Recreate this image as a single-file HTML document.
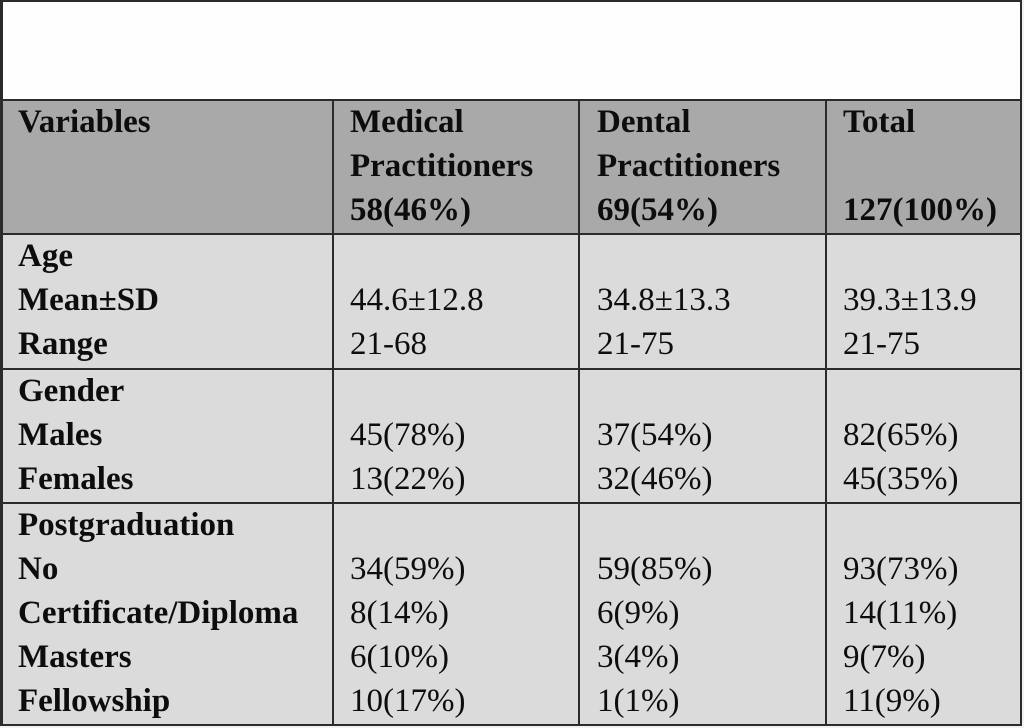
<!DOCTYPE html>
<html><head><meta charset="utf-8"><style>
html,body{margin:0;padding:0;background:#fff;}
#c{position:relative;width:1024px;height:728px;overflow:hidden;background:#fff;font-family:"Liberation Serif","Times New Roman",serif;font-size:33px;line-height:44px;color:#0d0d0d;}
.bg{position:absolute;}
.l{position:absolute;background:#2b2b2b;}
.t{position:absolute;white-space:nowrap;}
.b{font-weight:bold;}
</style></head><body><div id="c">
<div class="bg" style="left:0;top:0;width:1021px;height:100px;background:#fefefe"></div>
<div class="bg" style="left:0;top:100px;width:1021px;height:134px;background:#a9a9a9"></div>
<div class="bg" style="left:0;top:234px;width:1021px;height:491px;background:#dbdbdb"></div>
<div class="bg" style="left:1022px;top:0;width:2px;height:728px;background:#f2f2f2"></div>
<div class="bg" style="left:0;top:726px;width:1024px;height:2px;background:#f2f2f2"></div>

<!-- outer border -->
<div class="l" style="left:0;top:0;width:1022px;height:2px"></div>
<div class="l" style="left:0;top:0;width:3px;height:726px"></div>
<div class="l" style="left:1020px;top:0;width:2px;height:726px"></div>
<div class="l" style="left:0;top:724px;width:1022px;height:2px"></div>
<!-- row lines -->
<div class="l" style="left:0;top:99px;width:1022px;height:2px"></div>
<div class="l" style="left:0;top:233px;width:1022px;height:2px"></div>
<div class="l" style="left:0;top:368px;width:1022px;height:2px"></div>
<div class="l" style="left:0;top:502px;width:1022px;height:2px"></div>
<!-- column lines -->
<div class="l" style="left:332px;top:100px;width:2px;height:625px"></div>
<div class="l" style="left:578px;top:100px;width:2px;height:625px"></div>
<div class="l" style="left:825px;top:100px;width:2px;height:625px"></div>

<!-- header -->
<div class="t b" style="left:18px;top:100px">Variables</div>
<div class="t b" style="left:350px;top:100px">Medical<br>Practitioners<br>58(46%)</div>
<div class="t b" style="left:597px;top:100px">Dental<br>Practitioners<br>69(54%)</div>
<div class="t b" style="left:843px;top:100px">Total<br><br>127(100%)</div>

<!-- Age -->
<div class="t b" style="left:18px;top:234px">Age<br>Mean±SD<br>Range</div>
<div class="t" style="left:350px;top:234px"><br>44.6±12.8<br>21-68</div>
<div class="t" style="left:597px;top:234px"><br>34.8±13.3<br>21-75</div>
<div class="t" style="left:843px;top:234px"><br>39.3±13.9<br>21-75</div>

<!-- Gender -->
<div class="t b" style="left:18px;top:369px">Gender<br>Males<br>Females</div>
<div class="t" style="left:350px;top:369px"><br>45(78%)<br>13(22%)</div>
<div class="t" style="left:597px;top:369px"><br>37(54%)<br>32(46%)</div>
<div class="t" style="left:843px;top:369px"><br>82(65%)<br>45(35%)</div>

<!-- Postgraduation -->
<div class="t b" style="left:18px;top:503px">Postgraduation<br>No<br>Certificate/Diploma<br>Masters<br>Fellowship</div>
<div class="t" style="left:350px;top:503px"><br>34(59%)<br>8(14%)<br>6(10%)<br>10(17%)</div>
<div class="t" style="left:597px;top:503px"><br>59(85%)<br>6(9%)<br>3(4%)<br>1(1%)</div>
<div class="t" style="left:843px;top:503px"><br>93(73%)<br>14(11%)<br>9(7%)<br>11(9%)</div>
</div></body></html>
